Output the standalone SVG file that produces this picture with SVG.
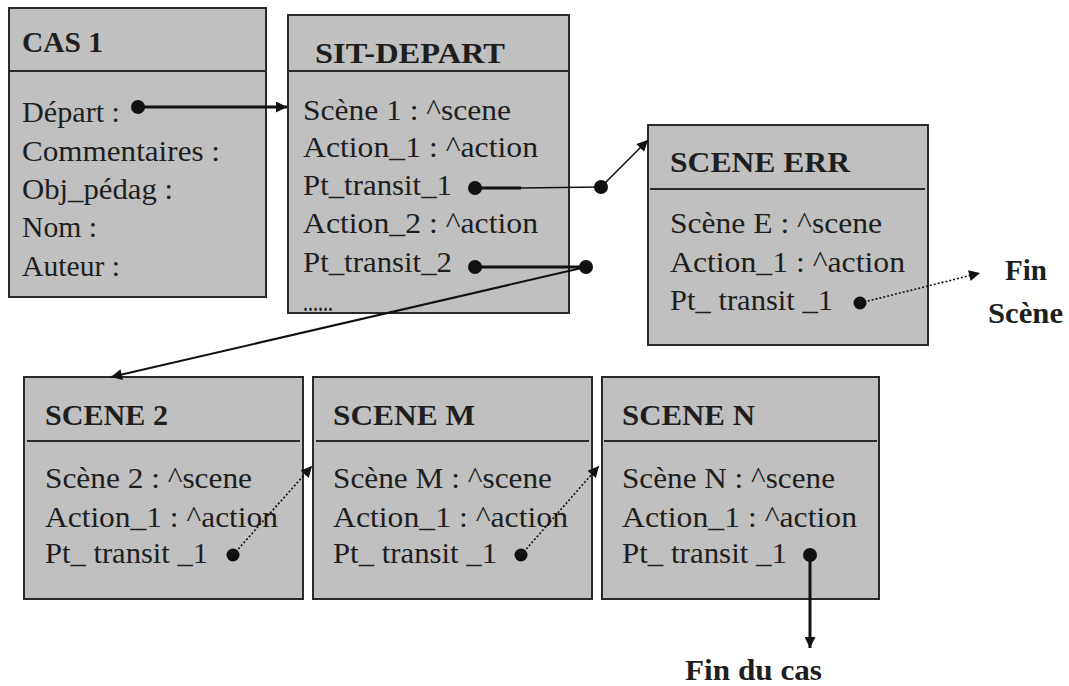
<svg xmlns="http://www.w3.org/2000/svg" width="1069" height="686" viewBox="0 0 1069 686">
<style>
.box{fill:#c0c0c0;stroke:#2a2a2a;stroke-width:2}
.sep{stroke:#2a2a2a;stroke-width:2}
.t{font-family:"Liberation Serif","Times New Roman",serif;font-size:29px;fill:#1e1e1e}
.h{font-family:"Liberation Serif","Times New Roman",serif;font-size:29px;font-weight:bold;fill:#1e1e1e}
.thick{stroke:#111;stroke-width:3;fill:none}
.thin{stroke:#111;stroke-width:1.6;fill:none}
.dot{stroke:#111;stroke-width:1.6;stroke-dasharray:2 2;fill:none}
.pt{fill:#111}
</style>
<defs>
<marker id="arr" viewBox="0 0 10 10" refX="10" refY="5" markerWidth="15" markerHeight="11" markerUnits="userSpaceOnUse" orient="auto"><path d="M0,0 L10,5 L0,10 z" fill="#111"/></marker>
</defs>
<rect width="1069" height="686" fill="#fff"/>
<g id="cas1">
<rect class="box" x="9" y="8" width="257" height="289"/>
<line class="sep" x1="9" y1="71" x2="266" y2="71"/>
<text class="h" x="22" y="52" textLength="81" lengthAdjust="spacingAndGlyphs">CAS 1</text>
<text class="t" x="22" y="122" textLength="98" lengthAdjust="spacingAndGlyphs">Départ :</text>
<text class="t" x="22" y="161" textLength="198" lengthAdjust="spacingAndGlyphs">Commentaires :</text>
<text class="t" x="22" y="199" textLength="151" lengthAdjust="spacingAndGlyphs">Obj_pédag :</text>
<text class="t" x="22" y="237" textLength="75" lengthAdjust="spacingAndGlyphs">Nom :</text>
<text class="t" x="22" y="276" textLength="98" lengthAdjust="spacingAndGlyphs">Auteur :</text>
</g>
<g id="sit-depart">
<rect class="box" x="288" y="15" width="281" height="298"/>
<line class="sep" x1="288" y1="71" x2="569" y2="71"/>
<text class="h" x="315" y="63" textLength="190" lengthAdjust="spacingAndGlyphs">SIT-DEPART</text>
<text class="t" x="303" y="120" textLength="208" lengthAdjust="spacingAndGlyphs">Scène 1 : ^scene</text>
<text class="t" x="303" y="157" textLength="235" lengthAdjust="spacingAndGlyphs">Action_1 : ^action</text>
<text class="t" x="303" y="195" textLength="149" lengthAdjust="spacingAndGlyphs">Pt_transit_1</text>
<text class="t" x="303" y="233" textLength="235" lengthAdjust="spacingAndGlyphs">Action_2 : ^action</text>
<text class="t" x="303" y="272" textLength="149" lengthAdjust="spacingAndGlyphs">Pt_transit_2</text>
<text class="t" x="303" y="311" textLength="30" lengthAdjust="spacingAndGlyphs">......</text>
</g>
<g id="scene-err">
<rect class="box" x="648" y="125" width="280" height="220"/>
<line class="sep" x1="650" y1="189" x2="925" y2="189"/>
<text class="h" x="670" y="172" textLength="180" lengthAdjust="spacingAndGlyphs">SCENE ERR</text>
<text class="t" x="670" y="233" textLength="212" lengthAdjust="spacingAndGlyphs">Scène E : ^scene</text>
<text class="t" x="670" y="272" textLength="235" lengthAdjust="spacingAndGlyphs">Action_1 : ^action</text>
<text class="t" x="670" y="310" textLength="163" lengthAdjust="spacingAndGlyphs">Pt_ transit _1</text>
</g>
<g id="scene-2">
<rect class="box" x="24" y="377" width="279" height="222"/>
<line class="sep" x1="27" y1="441" x2="300" y2="441"/>
<text class="h" x="45" y="425" textLength="123" lengthAdjust="spacingAndGlyphs">SCENE 2</text>
<text class="t" x="45" y="488" textLength="207" lengthAdjust="spacingAndGlyphs">Scène 2 : ^scene</text>
<text class="t" x="45" y="527" textLength="233" lengthAdjust="spacingAndGlyphs">Action_1 : ^action</text>
<text class="t" x="45" y="563" textLength="163" lengthAdjust="spacingAndGlyphs">Pt_ transit _1</text>
</g>
<g id="scene-m">
<rect class="box" x="313" y="377" width="279" height="222"/>
<line class="sep" x1="316" y1="441" x2="589" y2="441"/>
<text class="h" x="333" y="425" textLength="142" lengthAdjust="spacingAndGlyphs">SCENE M</text>
<text class="t" x="333" y="488" textLength="219" lengthAdjust="spacingAndGlyphs">Scène M : ^scene</text>
<text class="t" x="333" y="527" textLength="235" lengthAdjust="spacingAndGlyphs">Action_1 : ^action</text>
<text class="t" x="333" y="563" textLength="164" lengthAdjust="spacingAndGlyphs">Pt_ transit _1</text>
</g>
<g id="scene-n">
<rect class="box" x="602" y="377" width="277" height="222"/>
<line class="sep" x1="604" y1="441" x2="877" y2="441"/>
<text class="h" x="622" y="425" textLength="133" lengthAdjust="spacingAndGlyphs">SCENE N</text>
<text class="t" x="622" y="488" textLength="213" lengthAdjust="spacingAndGlyphs">Scène N : ^scene</text>
<text class="t" x="622" y="527" textLength="235" lengthAdjust="spacingAndGlyphs">Action_1 : ^action</text>
<text class="t" x="622" y="563" textLength="165" lengthAdjust="spacingAndGlyphs">Pt_ transit _1</text>
</g>
<g id="fin-scene">
<text class="h" x="1005" y="280" textLength="42" lengthAdjust="spacingAndGlyphs">Fin</text>
<text class="h" x="988" y="323" textLength="75" lengthAdjust="spacingAndGlyphs">Scène</text>
</g>
<g id="fin-du-cas">
<text class="h" x="685" y="680" textLength="137" lengthAdjust="spacingAndGlyphs">Fin du cas</text>
</g>
<g id="connectors">
<line class="thick" x1="138" y1="107" x2="287" y2="107" marker-end="url(#arr)"/>
<circle class="pt" cx="138" cy="107" r="7"/>
<line class="thick" x1="475" y1="188" x2="521" y2="188"/>
<line class="thin" x1="521" y1="188" x2="601" y2="187"/>
<line class="thin" x1="601" y1="187" x2="648" y2="140" marker-end="url(#arr)"/>
<circle class="pt" cx="475" cy="188" r="7"/>
<circle class="pt" cx="601" cy="187" r="7"/>
<line class="thick" x1="475" y1="267" x2="586" y2="267"/>
<line class="thin" x1="586" y1="267" x2="111" y2="377" marker-end="url(#arr)" style="stroke-width:2"/>
<circle class="pt" cx="475" cy="267" r="7"/>
<circle class="pt" cx="586" cy="267" r="7"/>
<line class="dot" x1="860" y1="303" x2="980" y2="273" marker-end="url(#arr)"/>
<circle class="pt" cx="860" cy="303" r="6.5"/>
<line class="dot" x1="233" y1="555" x2="312" y2="466" marker-end="url(#arr)"/>
<circle class="pt" cx="233" cy="555" r="6.5"/>
<line class="dot" x1="521" y1="555" x2="599" y2="466" marker-end="url(#arr)"/>
<circle class="pt" cx="521" cy="555" r="6.5"/>
<line class="thick" x1="810" y1="555" x2="810" y2="648" marker-end="url(#arr)"/>
<circle class="pt" cx="810" cy="555" r="7"/>
</g>
</svg>
